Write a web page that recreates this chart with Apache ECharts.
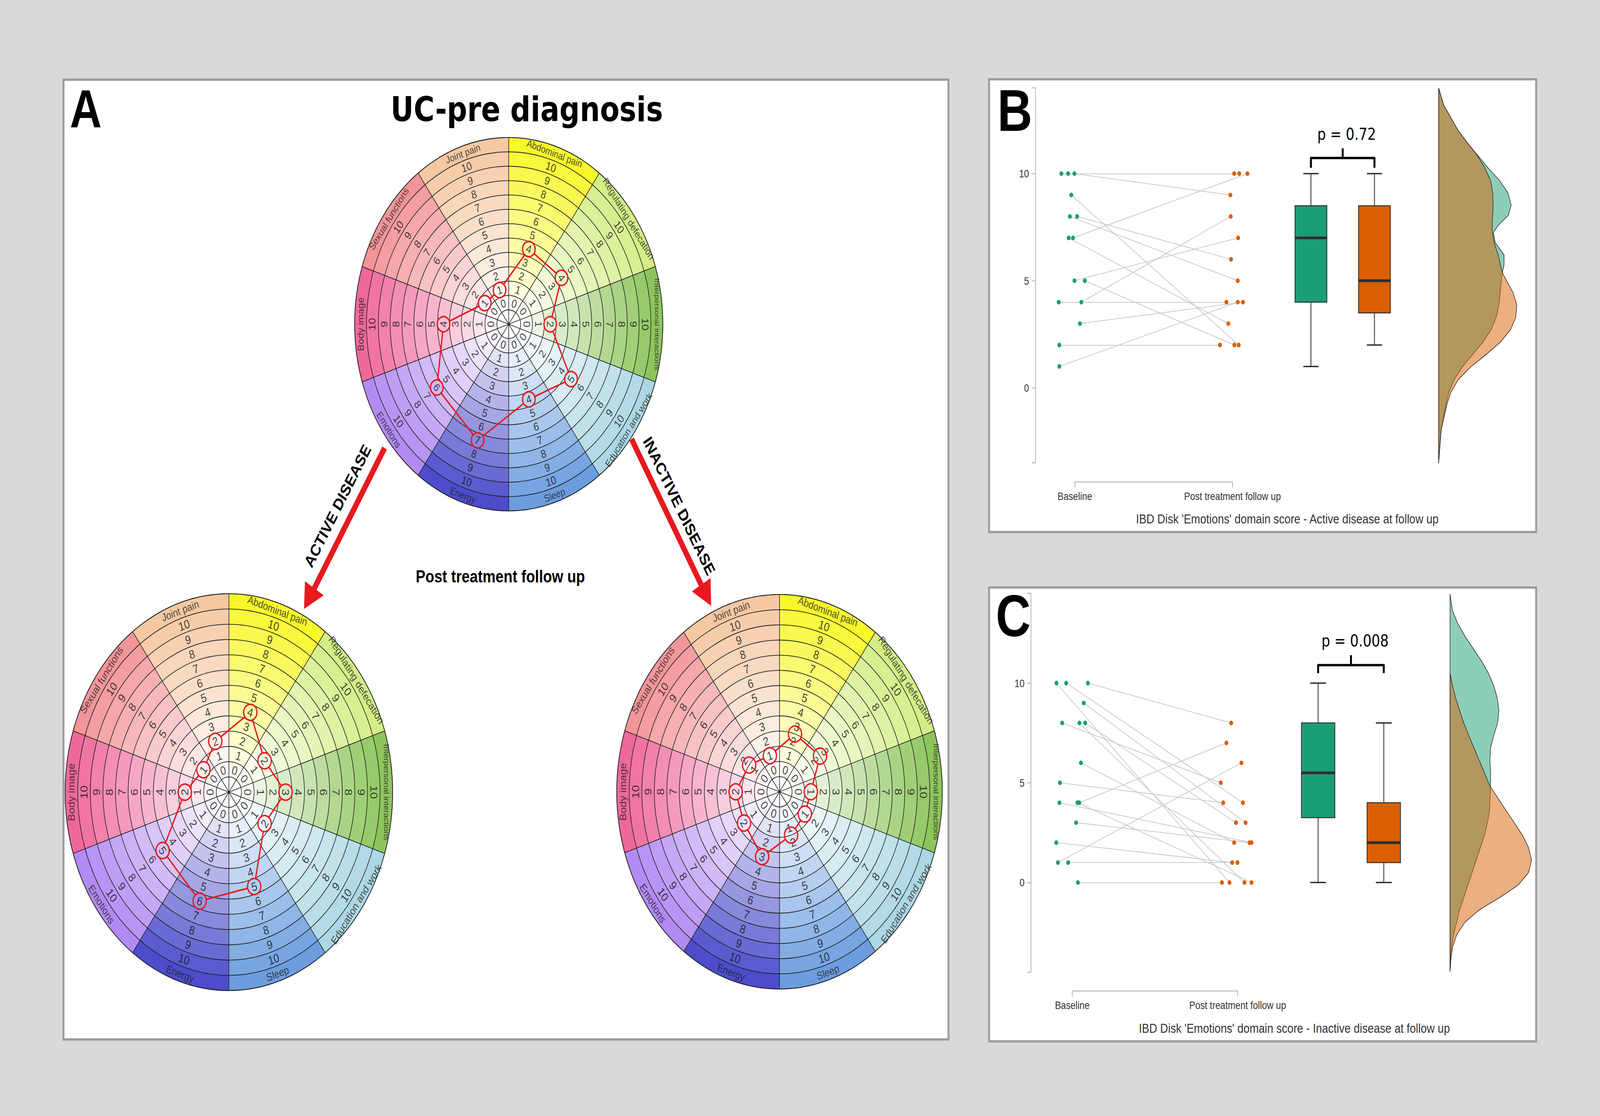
<!DOCTYPE html>
<html>
<head>
<meta charset="utf-8">
<title>IBD Disk - Emotions domain</title>
<script src="https://cdn.jsdelivr.net/npm/echarts@6.0.0/dist/echarts.min.js"></script>
<style>
html,body{margin:0;padding:0;background:#d9d9d9;overflow:hidden;}
#chart{width:4963px;height:2857px;transform-origin:0 0;}
</style>
</head>
<body>
<div id="chart"></div>
<script>
// ================= DATA =================
const domains = ['Abdominal pain','Regulating defecation','Interpersonal interactions','Education and work','Sleep','Energy','Emotions','Body image','Sexual functions','Joint pain'];
const diskTicks = [0,1,2,3,4,5,6,7,8,9,10];
const domainColors = ['#f7f72a','#d3ee86','#8dc55c','#acd7e4','#6b9ddf','#4c4ccc','#b18bf3','#ef689b','#f39598','#f5c8a2'];
const preDiagnosis     = [4,4,2,5,4,7,6,4,1,1];
const activeFollowUp   = [4,2,3,2,5,6,5,2,1,2];
const inactiveFollowUp = [2.5,2.5,1,1,1.5,3,2,2,1.5,1];

const groups = ['Baseline','Post treatment follow up'];
const activeBaseline       = [10,10,10,9,8,8,7,7,5,5,4,4,3,2,1];
const activeBaselineJitter = [-0.086,-0.043,-0.003,-0.023,-0.032,0.014,-0.012,-0.039,-0.003,0.063,-0.103,0.041,0.032,-0.099,-0.099];
const activePost           = [10,10,9,2,5,6,10,3,7,2,4,8,4,2,4];
const activePostJitter     = [0.010,0.042,-0.014,0.039,0.033,-0.010,0.094,-0.027,0.035,0.012,-0.039,-0.012,0.066,-0.080,0.033];

const inactiveBaseline       = [10,10,10,9,8,8,8,6,5,4,4,4,3,2,1,1,0];
const inactiveBaselineJitter = [-0.096,-0.037,0.094,0.069,-0.061,0.043,0.078,0.052,-0.075,-0.078,0.031,0.042,0.023,-0.097,-0.087,-0.025,0.034];
const inactivePost           = [0,4,8,3,5,0,3,2,4,2,0,7,2,1,6,1,0];
const inactivePostJitter     = [-0.049,0.032,-0.039,0.048,-0.102,0.041,-0.010,-0.021,-0.087,0.084,0.084,-0.068,0.072,-0.033,0.023,-0.001,-0.095];

const activeBaselineBox   = [1,4,7,8.5,10];
const activePostBox       = [2,3.5,5,8.5,10];
const inactiveBaselineBox = [0,3.25,5.5,8,10];
const inactivePostBox     = [0,1,2,4,8];

const activeBaselineDensityScore = [13.99,13.18,12.01,11.43,10.85,10.27,9.69,9.11,8.53,8.06,7.59,7.25,6.78,6.20,5.73,5.38,5.04,4.45,3.87,3.29,2.71,2.13,1.55,0.97,0.38,-0.20,-0.78,-1.94,-3.10,-3.51];
const activeBaselineDensity      = [0,0.033,0.124,0.183,0.248,0.313,0.385,0.439,0.460,0.443,0.378,0.347,0.359,0.415,0.415,0.404,0.398,0.391,0.382,0.365,0.333,0.280,0.215,0.150,0.098,0.065,0.046,0.016,0.004,0];
const activePostDensityScore = [13.99,13.18,12.01,11.43,10.85,10.27,9.69,9.11,8.53,7.94,7.36,6.78,6.20,5.38,5.04,4.45,3.87,3.29,2.71,2.13,1.55,0.97,0.38,-0.20,-0.78,-1.94,-3.10,-3.51];
const activePostDensity      = [0,0.033,0.124,0.183,0.245,0.293,0.329,0.343,0.346,0.342,0.339,0.352,0.378,0.404,0.428,0.472,0.496,0.489,0.456,0.391,0.300,0.202,0.124,0.078,0.052,0.017,0.004,0];
const inactiveBaselineDensityScore = [14.47,13.62,13.00,12.37,11.75,11.12,10.50,9.87,9.25,8.62,8.00,7.37,6.75,6.12,5.50,4.87,4.25,3.62,3.00,2.37,1.75,1.12,0.50,-0.12,-0.75,-1.37,-2.00,-2.62,-3.25,-3.87,-4.47];
const inactiveBaselineDensity      = [0,0.015,0.046,0.089,0.139,0.189,0.232,0.264,0.286,0.295,0.288,0.264,0.245,0.241,0.245,0.245,0.242,0.239,0.226,0.208,0.183,0.158,0.133,0.108,0.083,0.058,0.040,0.021,0.009,0.002,0];
const inactivePostDensityScore = [10.50,9.87,9.25,8.62,8.00,7.37,6.75,6.12,5.50,4.87,4.25,3.62,3.00,2.37,1.75,1.12,0.50,-0.12,-0.75,-1.37,-2.00,-2.62,-3.25,-3.87,-4.47];
const inactivePostDensity      = [0,0.015,0.034,0.058,0.083,0.114,0.145,0.177,0.208,0.239,0.288,0.338,0.388,0.438,0.475,0.493,0.475,0.413,0.301,0.177,0.089,0.040,0.015,0.005,0];

const pValueActive = 'p = 0.72';
const pValueInactive = 'p = 0.008';

// ================= FIT TO WINDOW =================
const DESIGN_W = 4963, DESIGN_H = 2857;
const vw = window.innerWidth || DESIGN_W, vh = window.innerHeight || DESIGN_H;
document.getElementById('chart').style.transform = 'scale(' + (vw / DESIGN_W) + ',' + (vh / DESIGN_H) + ')';

// ================= STYLE / LAYOUT =================
const FONT = "'Liberation Sans', Arial, Helvetica, sans-serif";
const RED = '#e8191e';
const GREEN = '#1b9e77', ORANGE = '#d95f02';
const RING_OFFSET = 1.5;
const K = diskTicks.length + 2;

const disks = [
  {values: preDiagnosis,     center: [1578, 830],  radius: 478},
  {values: activeFollowUp,   center: [710, 2028],  radius: 508},
  {values: inactiveFollowUp, center: [2418, 2027], radius: 505}
];

function hexToRgb(h){ h = h.replace('#',''); return [0,2,4].map(i => parseInt(h.substr(i,2),16)); }
function mixWhite(hex, t){ const c = hexToRgb(hex); return 'rgb(' + c.map(x => Math.round(255 + (x-255)*t)).join(',') + ')'; }
function textRot(i){
  const th = (i + 0.5) * 360 / domains.length;
  if (th <= 90) return -th;
  if (th >= 270) return 360 - th;
  return 180 - th;
}

const series = [];
const polar = [], angleAxis = [], radiusAxis = [];

disks.forEach((dk, p) => {
  const unit = dk.radius / K;
  polar.push({center: dk.center, radius: dk.radius});
  angleAxis.push({polarIndex: p, type: 'category', data: domains, startAngle: 90, clockwise: true, z: 4,
    axisLine: {show: true, lineStyle: {color: '#1e1e1e', width: 2}},
    axisTick: {show: false}, axisLabel: {show: false},
    splitLine: {show: true, lineStyle: {color: '#1e1e1e', width: 1.8}}});
  radiusAxis.push({polarIndex: p, type: 'value', min: 0, max: K, interval: 1, z: 4,
    axisLine: {show: false}, axisTick: {show: false}, axisLabel: {show: false},
    splitLine: {show: true, lineStyle: {color: '#1e1e1e', width: 1.8}}});
  for (let k = 0; k < K; k++) {
    series.push({type: 'bar', coordinateSystem: 'polar', polarIndex: p, stack: 'disk' + p,
      barCategoryGap: '0%', z: 1, silent: true,
      data: domains.map((d, i) => ({value: 1, itemStyle: {color: mixWhite(domainColors[i], k / (K - 1))}}))});
  }
  series.push({type: 'scatter', coordinateSystem: 'polar', polarIndex: p, z: 6, silent: true,
    symbolSize: 1, itemStyle: {color: 'rgba(0,0,0,0)'},
    label: {show: true, position: 'inside', color: '#111', fontSize: Math.round(unit * 0.8), fontFamily: FONT},
    data: domains.flatMap((d, i) => diskTicks.map(t => ({value: [t + RING_OFFSET, i],
      label: {formatter: String(t), rotate: textRot(i)}})))});
  const arc = (K - 0.5) * unit * 2 * Math.PI / domains.length;
  series.push({type: 'scatter', coordinateSystem: 'polar', polarIndex: p, z: 6, silent: true,
    symbolSize: 1, itemStyle: {color: 'rgba(0,0,0,0)'},
    label: {show: true, position: 'inside', color: '#222', fontFamily: FONT},
    data: domains.map((d, i) => ({value: [diskTicks.length + RING_OFFSET, i],
      label: {formatter: d, rotate: textRot(i),
        fontSize: Math.round(Math.min(unit * 0.72, arc * 0.95 / (d.length * 0.5)))}}))});
  const vals = dk.values;
  const mr = unit * 0.53;
  series.push({type: 'custom', coordinateSystem: 'polar', polarIndex: p, z: 8, silent: true,
    encode: {radius: 0, angle: 1},
    data: vals.map((v, i) => [v + RING_OFFSET, i]),
    renderItem: function (params, api) {
      const n = vals.length, i = params.dataIndex, j = (i + 1) % n;
      const a = api.coord([vals[i] + RING_OFFSET, i]);
      const b = api.coord([vals[j] + RING_OFFSET, j]);
      const dx = b[0] - a[0], dy = b[1] - a[1], L = Math.hypot(dx, dy) || 1;
      const ux = dx / L, uy = dy / L;
      return {type: 'group', children: [
        {type: 'circle', shape: {cx: a[0], cy: a[1], r: mr}, style: {fill: 'none', stroke: RED, lineWidth: 4}},
        {type: 'line', shape: {x1: a[0] + ux * mr, y1: a[1] + uy * mr, x2: b[0] - ux * mr, y2: b[1] - uy * mr},
          style: {stroke: RED, lineWidth: 4}}
      ]};
    }});
});

// ================= PAIRED PANELS =================
const grid = [
  {left: 3212, right: 235, top: 225, bottom: 1672, outerBoundsMode: 'none'},
  {left: 3334, right: 1140, top: 1233, height: 1, outerBoundsMode: 'none'},
  {left: 3198, right: 201, top: 1519, bottom: 368, outerBoundsMode: 'none'},
  {left: 3326, right: 1124, top: 2536, height: 1, outerBoundsMode: 'none'}
];
const axisGray = '#a8a8a8';
function bracketAxis(gi) {
  return {gridIndex: gi, type: 'value', min: 1, max: 2, interval: 1,
    axisLine: {show: true, lineStyle: {color: axisGray, width: 2}},
    axisTick: {show: true, length: 14, lineStyle: {color: axisGray, width: 2}},
    axisLabel: {formatter: v => groups[v - 1] || '', fontSize: 28, color: '#333', margin: 22, fontFamily: FONT, showMinLabel: true, showMaxLabel: true},
    splitLine: {show: false}};
}
const xAxis = [
  {gridIndex: 0, type: 'value', min: 0.75, max: 3.85, show: false},
  bracketAxis(1),
  {gridIndex: 2, type: 'value', min: 0.75, max: 3.8, show: false},
  bracketAxis(3)
];
function scoreAxis(gi, mn, mx) {
  return {gridIndex: gi, type: 'value', min: mn, max: mx,
    axisLine: {show: true, lineStyle: {color: axisGray, width: 2}},
    axisTick: {show: true, length: 12, customValues: [mn, 0, 5, 10, mx], lineStyle: {color: axisGray, width: 2}},
    axisLabel: {show: true, customValues: [0, 5, 10], fontSize: 28, color: '#333', margin: 20, fontFamily: FONT},
    splitLine: {show: false}};
}
const yAxis = [
  scoreAxis(0, -3.5, 14),
  {gridIndex: 1, type: 'value', min: 0, max: 1, show: false},
  scoreAxis(2, -4.5, 14.5),
  {gridIndex: 3, type: 'value', min: 0, max: 1, show: false}
];

const panels = [
  {ax: 0, baseline: activeBaseline, bj: activeBaselineJitter, post: activePost, pj: activePostJitter,
   boxes: [activeBaselineBox, activePostBox], boxX: [2.497, 2.900], violinBase: 3.307,
   violins: [[activeBaselineDensityScore, activeBaselineDensity], [activePostDensityScore, activePostDensity]],
   brace: [10.27, 10.73, 11.18, 11.84], pText: pValueActive},
  {ax: 2, baseline: inactiveBaseline, bj: inactiveBaselineJitter, post: inactivePost, pj: inactivePostJitter,
   boxes: [inactiveBaselineBox, inactivePostBox], boxX: [2.487, 2.884], violinBase: 3.285,
   violins: [[inactiveBaselineDensityScore, inactiveBaselineDensity], [inactivePostDensityScore, inactivePostDensity]],
   brace: [10.5, 10.9, 11.4, 12.12], pText: pValueInactive}
];
const BOX_HALF = 0.101, CAP_HALF = 0.048;
const boxFill = [GREEN, ORANGE];
const violinFill = ['rgba(27,158,119,0.5)', 'rgba(217,95,2,0.5)'];

panels.forEach(pn => {
  const ax = pn.ax;
  series.push({type: 'lines', coordinateSystem: 'cartesian2d', xAxisIndex: ax, yAxisIndex: ax, z: 3, silent: true,
    lineStyle: {color: '#c9c9c9', width: 2, opacity: 1},
    data: pn.baseline.map((v, i) => ({coords: [[1 + pn.bj[i], v], [2 + pn.pj[i], pn.post[i]]]}))});
  series.push({type: 'scatter', xAxisIndex: ax, yAxisIndex: ax, z: 5, silent: true, symbolSize: 12,
    itemStyle: {color: GREEN, opacity: 1}, data: pn.baseline.map((v, i) => [1 + pn.bj[i], v])});
  series.push({type: 'scatter', xAxisIndex: ax, yAxisIndex: ax, z: 5, silent: true, symbolSize: 12,
    itemStyle: {color: ORANGE, opacity: 1}, data: pn.post.map((v, i) => [2 + pn.pj[i], v])});
  series.push({type: 'custom', xAxisIndex: ax, yAxisIndex: ax, z: 5, silent: true,
    encode: {x: 0, y: [1, 2, 3, 4, 5]},
    data: pn.boxes.map((b, i) => [pn.boxX[i]].concat(b).concat([i])),
    renderItem: function (params, api) {
      const x = api.value(0);
      const mn = api.value(1), q1 = api.value(2), md = api.value(3), q3 = api.value(4), mx = api.value(5);
      const col = boxFill[api.value(6)];
      const hw = api.size([BOX_HALF, 0])[0], cw = api.size([CAP_HALF, 0])[0];
      const c = v => api.coord([x, v]);
      const pMin = c(mn), pQ1 = c(q1), pMd = c(md), pQ3 = c(q3), pMx = c(mx);
      const stroke = '#2e2e2e';
      return {type: 'group', children: [
        {type: 'line', shape: {x1: pMx[0], y1: pMx[1], x2: pQ3[0], y2: pQ3[1]}, style: {stroke, lineWidth: 2.5}},
        {type: 'line', shape: {x1: pQ1[0], y1: pQ1[1], x2: pMin[0], y2: pMin[1]}, style: {stroke, lineWidth: 2.5}},
        {type: 'line', shape: {x1: pMx[0] - cw, y1: pMx[1], x2: pMx[0] + cw, y2: pMx[1]}, style: {stroke, lineWidth: 3.5}},
        {type: 'line', shape: {x1: pMin[0] - cw, y1: pMin[1], x2: pMin[0] + cw, y2: pMin[1]}, style: {stroke, lineWidth: 3.5}},
        {type: 'rect', shape: {x: pQ3[0] - hw, y: pQ3[1], width: 2 * hw, height: pQ1[1] - pQ3[1]}, style: {fill: col, stroke, lineWidth: 2.5}},
        {type: 'line', shape: {x1: pMd[0] - hw, y1: pMd[1], x2: pMd[0] + hw, y2: pMd[1]}, style: {stroke, lineWidth: 7}}
      ]};
    }});
  series.push({type: 'custom', xAxisIndex: ax, yAxisIndex: ax, z: 4, silent: true,
    encode: {x: 0, y: 1},
    data: [[pn.violinBase, 0], [pn.violinBase, 0]],
    renderItem: function (params, api) {
      const idx = params.dataIndex;
      const sc = pn.violins[idx][0], w = pn.violins[idx][1];
      const base = pn.violinBase;
      const pts = sc.map((s, i) => api.coord([base + w[i], s]));
      pts.unshift(api.coord([base, sc[0]]));
      pts.push(api.coord([base, sc[sc.length - 1]]));
      return {type: 'polygon', shape: {points: pts}, style: {fill: violinFill[idx], stroke: '#1f1f1f', lineWidth: 1.6}};
    }});
  series.push({type: 'custom', xAxisIndex: ax, yAxisIndex: ax, z: 6, silent: true,
    encode: {x: 0, y: 1},
    data: [[(pn.boxX[0] + pn.boxX[1]) / 2, pn.brace[3]]],
    renderItem: function (params, api) {
      const x1 = pn.boxX[0], x2 = pn.boxX[1], xm = (x1 + x2) / 2;
      const yb = pn.brace[0], yh = pn.brace[1], yt = pn.brace[2], ytxt = pn.brace[3];
      const a = api.coord([x1, yb]), b = api.coord([x1, yh]), c2 = api.coord([x2, yh]), d = api.coord([x2, yb]);
      const m = api.coord([xm, yh]), t = api.coord([xm, yt]);
      const tp = api.coord([xm + 0.025, ytxt]);
      return {type: 'group', children: [
        {type: 'polyline', shape: {points: [a, b, c2, d]}, style: {stroke: '#000', lineWidth: 6, fill: null, lineJoin: 'round'}},
        {type: 'line', shape: {x1: m[0], y1: m[1] + 2, x2: t[0], y2: t[1]}, style: {stroke: '#000', lineWidth: 6}},
        {type: 'text', x: tp[0], y: tp[1], style: {text: pn.pText, fontSize: 42, fontFamily: "'DejaVu Sans', sans-serif",
          fill: '#000', align: 'center', verticalAlign: 'middle', textAlign: 'center', textVerticalAlign: 'middle'}}
      ]};
    }});
});

// ================= DECORATION =================
function txt(text, x, y, size, opts) {
  opts = opts || {};
  return {type: 'text', x: x, y: y, rotation: opts.rotation || 0, z: 50, silent: true,
    style: {text: text, fontSize: size, fontWeight: opts.weight || 'normal', fontFamily: opts.family || FONT,
      fill: opts.color || '#000', align: 'center', verticalAlign: 'middle', textAlign: 'center', textVerticalAlign: 'middle'}};
}
const deg = Math.PI / 180;
const graphicEls = [
  {type: 'rect', z: -10, silent: true, shape: {x: 197, y: 204, width: 2745, height: 2457}, style: {fill: '#fff', stroke: '#9d9d9d', lineWidth: 6}},
  {type: 'rect', z: -10, silent: true, shape: {x: 3068, y: 203, width: 1697, height: 1159}, style: {fill: '#fff', stroke: '#9d9d9d', lineWidth: 6}},
  {type: 'rect', z: -10, silent: true, shape: {x: 3068, y: 1504, width: 1697, height: 1162}, style: {fill: '#fff', stroke: '#9d9d9d', lineWidth: 6}},
  {type: 'line', z: 40, silent: true, shape: {x1: 1193, y1: 1147, x2: 975, y2: 1506}, style: {stroke: RED, lineWidth: 16}},
  {type: 'polygon', z: 40, silent: true, shape: {points: [[943, 1559], [1004, 1524], [946, 1488]]}, style: {fill: RED}},
  {type: 'line', z: 40, silent: true, shape: {x1: 1959, y1: 1124, x2: 2175, y2: 1497}, style: {stroke: RED, lineWidth: 16}},
  {type: 'polygon', z: 40, silent: true, shape: {points: [[2206, 1551], [2204, 1480], [2146, 1514]]}, style: {fill: RED}},
  txt('ACTIVE DISEASE', 1047, 1295, 43, {weight: 'bold', rotation: 58.8 * deg}),
  txt('INACTIVE DISEASE', 2107, 1295, 43, {weight: 'bold', rotation: -59.9 * deg}),
  txt('A', 266, 279, 137, {weight: 'bold'}),
  txt('B', 3148, 283, 150, {weight: 'bold'}),
  txt('C', 3143, 1577, 150, {weight: 'bold'}),
  txt('UC-pre diagnosis', 1634, 279, 88, {weight: 'bold', family: "'DejaVu Sans', sans-serif"}),
  txt('Post treatment follow up', 1552, 1476, 45, {weight: 'bold'}),
  txt("IBD Disk 'Emotions' domain score - Active disease at follow up", 3993, 1329, 34, {color: '#333'}),
  txt("IBD Disk 'Emotions' domain score - Inactive disease at follow up", 4015, 2633, 34, {color: '#333'})
];

const option = {
  backgroundColor: '#d9d9d9',
  animation: false,
  polar: polar,
  angleAxis: angleAxis,
  radiusAxis: radiusAxis,
  grid: grid,
  xAxis: xAxis,
  yAxis: yAxis,
  series: series,
  graphic: {elements: graphicEls}
};

const chart = echarts.init(document.getElementById('chart'), null, {renderer: 'svg', width: DESIGN_W, height: DESIGN_H});
chart.setOption(option);
</script>
</body>
</html>
